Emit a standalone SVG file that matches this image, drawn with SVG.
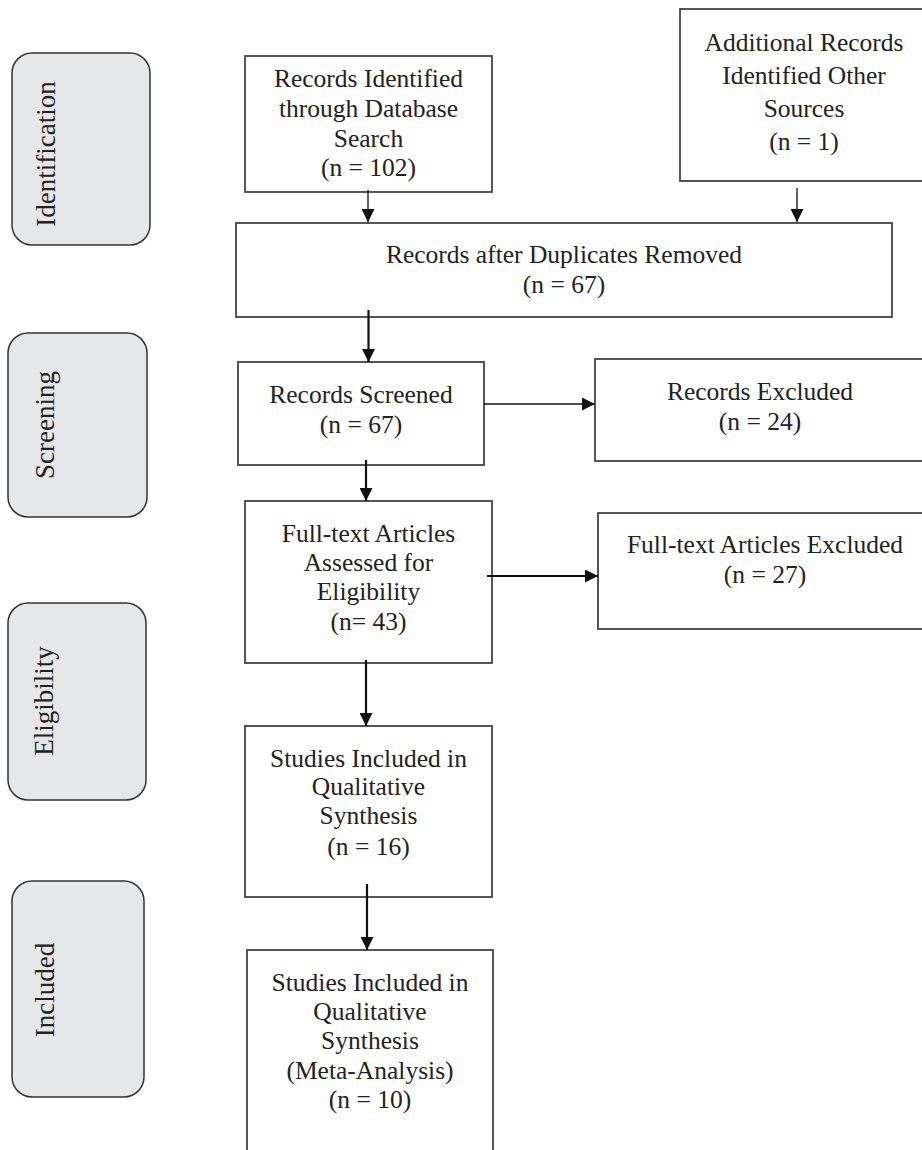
<svg xmlns="http://www.w3.org/2000/svg" width="922" height="1150" viewBox="0 0 922 1150">
<style>
.box{fill:#fff;stroke:#444;stroke-width:1.8}
.side{fill:#e6e7e9;stroke:#333;stroke-width:1.5}
.t{font-family:"Liberation Serif","Times New Roman",serif;font-size:25.5px;fill:#222;text-anchor:middle}
.st{font-family:"Liberation Serif","Times New Roman",serif;font-size:27px;fill:#222;text-anchor:middle}
.thin{stroke:#111;stroke-width:1.3;fill:none;marker-end:url(#ah)}
.thick{stroke:#111;stroke-width:2.2;fill:none;marker-end:url(#ah)}
</style>
<defs>
<marker id="ah" viewBox="0 0 13 13" refX="13" refY="6.5" markerWidth="13" markerHeight="13" markerUnits="userSpaceOnUse" orient="auto">
<path d="M0,0 L13,6.5 L0,13 z" fill="#111"/>
</marker>
</defs>
<rect width="922" height="1150" fill="#fff"/>

<g id="side-identification">
<rect class="side" x="12" y="53" width="138" height="192" rx="20"/>
<text class="st" transform="translate(45,154) rotate(-90)" y="10">Identification</text>
</g>
<g id="side-screening">
<rect class="side" x="8" y="333" width="139" height="184" rx="20"/>
<text class="st" transform="translate(44,425) rotate(-90)" y="10">Screening</text>
</g>
<g id="side-eligibility">
<rect class="side" x="8" y="603" width="138" height="197" rx="20"/>
<text class="st" transform="translate(43,701) rotate(-90)" y="10">Eligibility</text>
</g>
<g id="side-included">
<rect class="side" x="12" y="881" width="132" height="216" rx="20"/>
<text class="st" transform="translate(44,990) rotate(-90)" y="10">Included</text>
</g>

<g id="n-database">
<rect class="box" x="245" y="56" width="247" height="136"/>
<text class="t" x="368.5" y="87">Records Identified</text>
<text class="t" x="368.5" y="117">through Database</text>
<text class="t" x="368.5" y="147">Search</text>
<text class="t" x="368.5" y="176">(n = 102)</text>
</g>
<g id="n-other">
<rect class="box" x="680" y="9" width="246" height="172"/>
<text class="t" x="804" y="51">Additional Records</text>
<text class="t" x="804" y="84">Identified Other</text>
<text class="t" x="804" y="117">Sources</text>
<text class="t" x="804" y="150">(n = 1)</text>
</g>
<g id="n-duplicates">
<rect class="box" x="236" y="223" width="656" height="94"/>
<text class="t" x="564" y="263">Records after Duplicates Removed</text>
<text class="t" x="564" y="293">(n = 67)</text>
</g>
<g id="n-screened">
<rect class="box" x="238" y="362" width="246" height="103"/>
<text class="t" x="361" y="403">Records Screened</text>
<text class="t" x="361" y="433">(n = 67)</text>
</g>
<g id="n-excluded">
<rect class="box" x="595" y="359" width="332" height="102"/>
<text class="t" x="760" y="400">Records Excluded</text>
<text class="t" x="760" y="430">(n = 24)</text>
</g>
<g id="n-fulltext">
<rect class="box" x="245" y="501" width="247" height="162"/>
<text class="t" x="368.5" y="542">Full-text Articles</text>
<text class="t" x="368.5" y="571">Assessed for</text>
<text class="t" x="368.5" y="600">Eligibility</text>
<text class="t" x="368.5" y="630">(n= 43)</text>
</g>
<g id="n-ft-excluded">
<rect class="box" x="598" y="513" width="334" height="116"/>
<text class="t" x="765" y="553">Full-text Articles Excluded</text>
<text class="t" x="765" y="583">(n = 27)</text>
</g>
<g id="n-qualitative">
<rect class="box" x="245" y="726" width="247" height="171"/>
<text class="t" x="368.5" y="767">Studies Included in</text>
<text class="t" x="368.5" y="795">Qualitative</text>
<text class="t" x="368.5" y="824">Synthesis</text>
<text class="t" x="368.5" y="855">(n = 16)</text>
</g>
<g id="n-meta">
<rect class="box" x="247" y="950" width="246" height="215"/>
<text class="t" x="370" y="991">Studies Included in</text>
<text class="t" x="370" y="1020">Qualitative</text>
<text class="t" x="370" y="1049">Synthesis</text>
<text class="t" x="370" y="1079">(Meta-Analysis)</text>
<text class="t" x="370" y="1108">(n = 10)</text>
</g>

<g id="connectors">
<line class="thin" x1="368" y1="190" x2="368" y2="222"/>
<line class="thin" x1="797" y1="188" x2="797" y2="222"/>
<line class="thick" x1="368.5" y1="310" x2="368.5" y2="362"/>
<line class="thin" x1="484" y1="404" x2="595" y2="404"/>
<line class="thick" x1="366" y1="460" x2="366" y2="501"/>
<line class="thick" x1="487" y1="576" x2="598" y2="576"/>
<line class="thick" x1="366" y1="660" x2="366" y2="726"/>
<line class="thick" x1="367" y1="884" x2="367" y2="950"/>
</g>
</svg>
